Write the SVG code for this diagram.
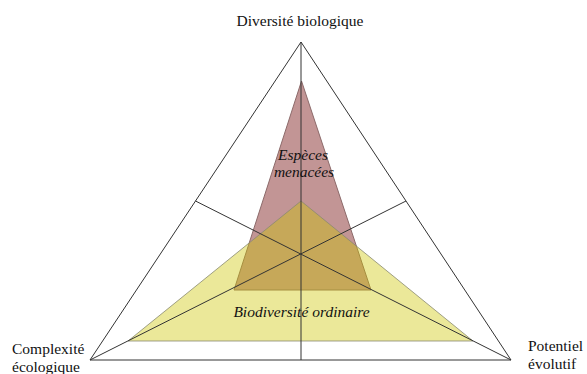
<svg xmlns="http://www.w3.org/2000/svg" width="587" height="374" viewBox="0 0 587 374">
<style>
.lbl{font-family:"Liberation Serif","Times New Roman",serif;font-size:15.5px;fill:#111}
.it{font-style:italic;text-anchor:middle}
.ln{stroke:#333;stroke-width:1;fill:none}
</style>
<rect width="587" height="374" fill="#fff"/>
<g id="especes-menacees">
<polygon points="301.5,81 234,290 371,290" fill="#c29595" stroke="#8c6a6a" stroke-width="1"/>
</g>
<g id="biodiversite-ordinaire">
<polygon points="301,201 128,341 473,341" fill="#cec600" fill-opacity="0.4" stroke="#8a8a70" stroke-opacity="0.8" stroke-width="1"/>
</g>
<g id="connectors">
<polygon class="ln" points="301,42 90,360 511,360" stroke="#444"/>
<line class="ln" x1="301" y1="42" x2="301" y2="360"/>
<line class="ln" x1="90" y1="360" x2="406" y2="201"/>
<line class="ln" x1="511" y1="360" x2="195.5" y2="201"/>
</g>
<g id="diversite-biologique"><text class="lbl" x="300" y="26" text-anchor="middle">Diversité biologique</text></g>
<g id="complexite-ecologique"><text class="lbl" x="12" y="354">Complexité</text><text class="lbl" x="12" y="372">écologique</text></g>
<g id="potentiel-evolutif"><text class="lbl" x="528" y="351">Potentiel</text><text class="lbl" x="528" y="369">évolutif</text></g>
<g id="label-especes"><text class="lbl it" x="303" y="160">Espèces</text><text class="lbl it" x="304" y="177">menacées</text></g>
<g id="label-biodiv"><text class="lbl it" x="301.5" y="317">Biodiversité ordinaire</text></g>
</svg>
